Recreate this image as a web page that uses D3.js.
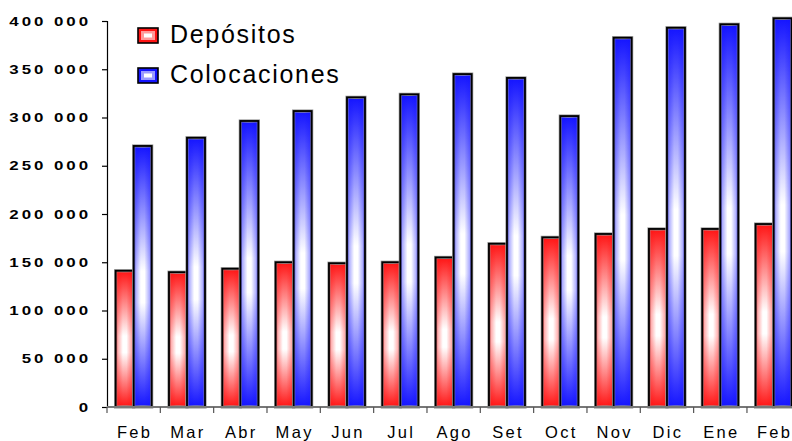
<!DOCTYPE html>
<html>
<head>
<meta charset="utf-8">
<script src="https://cdn.jsdelivr.net/npm/d3@7"></script>
<style>
  body { margin: 0; background: #fff; }
  svg { display: block; font-family: "Liberation Sans", Arial, sans-serif; }
</style>
</head>
<body>
<div id="chart"></div>
<script>
// Размеры svg
const width = 792;
const height = 441;
const margin = { top: 21, right: -8, bottom: 34, left: 107 };

// Данные
const months = ["Feb", "Mar", "Abr", "May", "Jun", "Jul", "Ago", "Set", "Oct", "Nov", "Dic", "Ene", "Feb"];
const depositos = [141200, 139700, 143300, 150000, 149000, 150000, 155000, 169200, 175800, 179300, 184500, 184500, 189600];
const colocaciones = [270500, 279000, 296400, 306700, 320900, 324000, 345000, 341000, 301500, 382700, 393000, 396600, 402800];
const yTicks = [0, 50000, 100000, 150000, 200000, 250000, 300000, 350000, 400000];
const seriesNames = ["Depósitos", "Colocaciones"];
const seriesColors = ["#ff1414", "#1414ff"];

const svg = d3.select("#chart")
  .append("svg")
  .attr("width", width)
  .attr("height", height);

// Градиенты для столбиков
const defs = svg.append("defs");
seriesColors.forEach((c, i) => {
  const v = defs.append("linearGradient")
    .attr("id", "gv" + i)
    .attr("x1", 0).attr("y1", 0).attr("x2", 0).attr("y2", 1);
  v.append("stop").attr("offset", "0%").attr("stop-color", c);
  v.append("stop").attr("offset", "48%").attr("stop-color", "#fff");
  v.append("stop").attr("offset", "60%").attr("stop-color", "#fff");
  v.append("stop").attr("offset", "100%").attr("stop-color", c);

  const h = defs.append("linearGradient")
    .attr("id", "gh" + i)
    .attr("x1", 0).attr("y1", 0).attr("x2", 1).attr("y2", 0);
  h.append("stop").attr("offset", "0%").attr("stop-color", c).attr("stop-opacity", 0.5);
  h.append("stop").attr("offset", "40%").attr("stop-color", c).attr("stop-opacity", 0);
  h.append("stop").attr("offset", "60%").attr("stop-color", c).attr("stop-opacity", 0);
  h.append("stop").attr("offset", "100%").attr("stop-color", c).attr("stop-opacity", 0.5);
});

// Шкалы
const step = 53.33;
const x0 = d3.scaleBand()
  .domain(d3.range(months.length))
  .range([margin.left, margin.left + step * months.length]);

const x1 = d3.scaleBand()
  .domain(d3.range(seriesNames.length))
  .range([0, x0.bandwidth()])
  .paddingOuter(0.48);

const y = d3.scaleLinear()
  .domain([0, 400000])
  .range([height - margin.bottom, margin.top]);

const fmt = d3.formatLocale({ decimal: ",", thousands: " ", grouping: [3], currency: ["", ""] }).format(",d");

// Ось Y
const sx = 1.35; // растяжение подписей по горизонтали
const yAxis = svg.append("g")
  .attr("transform", `translate(${margin.left},0)`)
  .call(d3.axisLeft(y).tickValues(yTicks).tickSize(5).tickFormat(fmt));
yAxis.select(".domain").attr("stroke", "#000").attr("stroke-width", 1.2);
yAxis.selectAll(".tick line").attr("stroke", "#000").attr("stroke-width", 1.2);
yAxis.selectAll("text")
  .attr("x", -16 / sx)
  .attr("transform", `scale(${sx},1)`)
  .attr("font-size", 12.5)
  .attr("font-weight", "bold")
  .attr("letter-spacing", "2.2px")
  .attr("fill", "#000");

// Столбики
const data = months.map((m, i) => ({ i, m, vals: [depositos[i], colocaciones[i]] }));
const groups = svg.selectAll(".grp")
  .data(data)
  .join("g")
  .attr("class", "grp")
  .attr("transform", d => `translate(${x0(d.i)},0)`);

const bars = groups.selectAll(".bar")
  .data(d => d.vals.map((v, s) => ({ v, s })))
  .join("g")
  .attr("class", "bar");

bars.append("rect")
  .attr("x", d => x1(d.s))
  .attr("y", d => y(d.v))
  .attr("width", x1.bandwidth())
  .attr("height", d => y(0) - y(d.v))
  .attr("fill", d => `url(#gv${d.s})`)
  .attr("stroke", "#999")
  .attr("stroke-width", 3.2);

bars.append("rect")
  .attr("x", d => x1(d.s))
  .attr("y", d => y(d.v))
  .attr("width", x1.bandwidth())
  .attr("height", d => y(0) - y(d.v))
  .attr("fill", d => `url(#gh${d.s})`)
  .attr("stroke", "#000")
  .attr("stroke-width", 1.8);

// Ось X
const xAxisScale = d3.scaleLinear()
  .domain([0, months.length])
  .range([margin.left, margin.left + step * months.length]);
const xAxis = svg.append("g")
  .attr("transform", `translate(0,${y(0)})`);
xAxis.append("line")
  .attr("x1", margin.left).attr("x2", width)
  .attr("stroke", "#777").attr("stroke-width", 2);
xAxis.selectAll(".xt")
  .data(d3.range(months.length + 1))
  .join("line")
  .attr("class", "xt")
  .attr("x1", d => xAxisScale(d)).attr("x2", d => xAxisScale(d))
  .attr("y1", 0).attr("y2", 6)
  .attr("stroke", "#555").attr("stroke-width", 1.2);
xAxis.selectAll(".xl")
  .data(data)
  .join("text")
  .attr("class", "xl")
  .attr("x", d => Math.min(x0(d.i) + x0.bandwidth() / 2 + 1, width - 17))
  .attr("y", 31)
  .attr("text-anchor", "middle")
  .attr("font-size", 16.5)
  .attr("letter-spacing", "2.3px")
  .attr("fill", "#000")
  .text(d => d.m);

// Легенда
const legend = svg.append("g").attr("transform", "translate(138,28)");
const items = legend.selectAll(".li")
  .data(seriesNames)
  .join("g")
  .attr("class", "li")
  .attr("transform", (d, i) => `translate(0,${i * 40})`);
items.append("rect")
  .attr("width", 20).attr("height", 15)
  .attr("fill", (d, i) => seriesColors[i])
  .attr("stroke", "#000").attr("stroke-width", 1.6);
items.append("rect")
  .attr("x", 3).attr("y", 3).attr("width", 14).attr("height", 9)
  .attr("fill", (d, i) => i === 0 ? "#ff9a9a" : "#9a9aff");
items.append("rect")
  .attr("x", 6).attr("y", 5.5).attr("width", 8).attr("height", 4)
  .attr("fill", "#fff");
items.append("text")
  .attr("x", 32).attr("y", 15)
  .attr("font-size", 25)
  .attr("letter-spacing", "1.7px")
  .attr("fill", "#000")
  .text(d => d);
</script>
</body>
</html>
